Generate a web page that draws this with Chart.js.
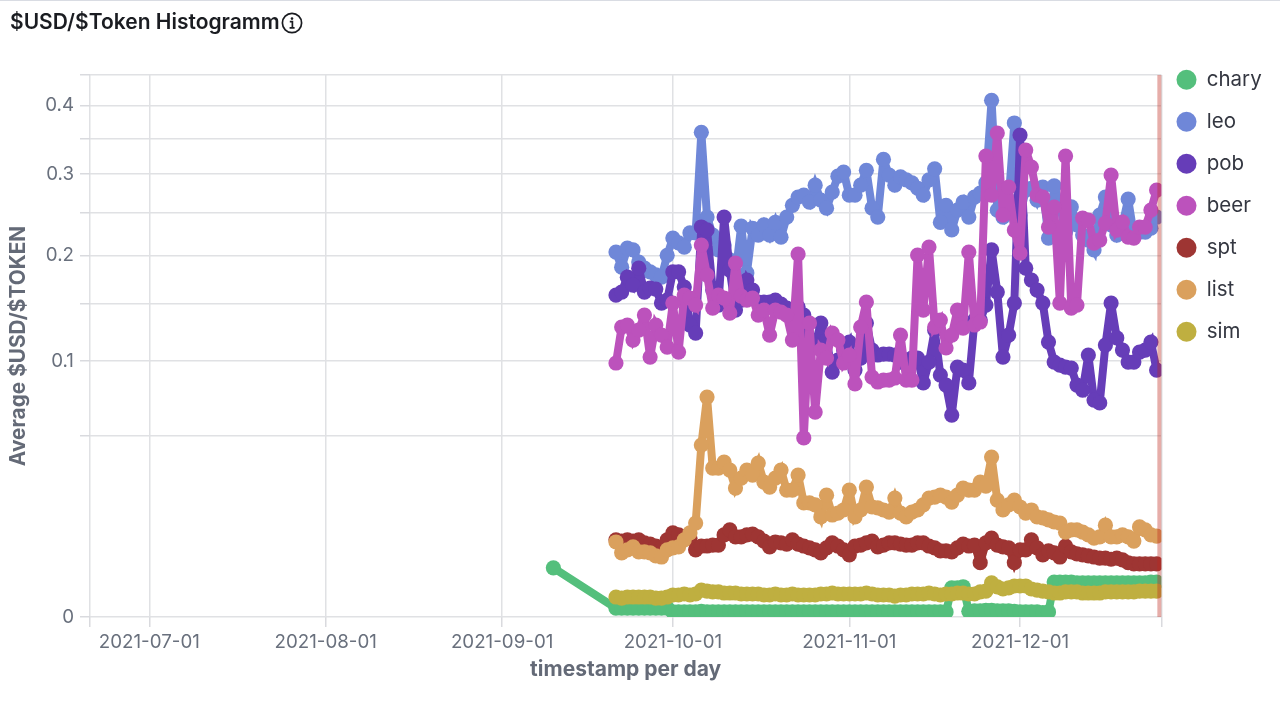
<!DOCTYPE html>
<html><head><meta charset="utf-8">
<script src="https://cdn.jsdelivr.net/npm/chart.js@4/dist/chart.umd.min.js"></script>
<style>
html,body{margin:0;padding:0;background:#fff;width:1280px;height:706px;overflow:hidden}
#wrap{position:relative;width:1280px;height:706px}
#topline{position:absolute;left:0;top:0;width:1280px;height:1px;background:#d9dce3}
#title{position:absolute;left:10px;top:9px;font:600 21px/26px Inter,sans-serif;color:#1a1c21;white-space:nowrap}
#icon{position:absolute;left:281px;top:12px}
canvas{position:absolute;left:0;top:0}
</style></head><body>
<div id="wrap">
<canvas id="c" width="1280" height="706"></canvas>
<div id="topline"></div>
<div id="title">$USD/$Token Histogramm</div>
<svg id="icon" width="22" height="22" viewBox="0 0 22 22"><circle cx="11" cy="11" r="9.6" fill="none" stroke="#1a1c21" stroke-width="1.7"/><circle cx="11" cy="6.6" r="1.3" fill="#1a1c21"/><path d="M8.8 9.6h2.6v6M8.6 15.8h5" fill="none" stroke="#1a1c21" stroke-width="1.7"/></svg>
</div>
<script>
const startDate='2021-09-21';
const charyEarlyDate='2021-09-10';
const charyEarlyValue=.0037;
const names=['chary','leo','pob','beer','spt','list','sim'];
const colors=['#54bf7c','#6f87d8','#663db8','#bc52bc','#9e3533','#daa05d','#bfaf40'];
const chary=[.00012,.00012,.00012,.00012,.00012,.00012,.00012,.00012,.00012,.00012,
.00004,.00004,.00004,.00004,.00004,.00005,.00004,.00004,.00004,.00004,.00004,.00004,.00004,.00004,.00004,.00004,.00004,.00004,.00004,.00004,.00004,.00004,.00004,.00004,.00004,.00004,.00004,.00004,.00004,.00004,.00004,.00004,.00004,.00004,.00004,.00004,.00004,.00004,.00004,.00004,.00004,.00004,.00004,.00004,.00004,.00004,.00004,.00004,.00004,
.0013,.0013,.0014,
.00005,.00006,.00006,.00007,.00007,.00006,.00006,.00006,.00005,.00004,.00004,.00004,.00004,.00003,.00004,
.00187,.00187,.00187,.00187,.00177,.00177,.00177,.00177,.00177,.00177,.00177,.00177,.00177,.00177,.00177,.00177,.00177,.00187,.00187];
const leo=[.2035,.187,.208,.206,.1925,.186,.182,.179,.1765,.2,.2195,.214,.209,.2255,.2255,.359,.2445,.223,.206,.2115,.195,.179,.2335,.181,.231,.223,.235,.223,.238,.2205,.2445,.259,.2695,.272,.263,.285,.2655,.2555,.276,.297,.3026,.272,.272,.285,.305,.2555,.2445,.32,.2985,.285,.296,.292,.288,.281,.272,.292,.307,.238,.259,.229,.253,.263,.2445,.2695,.2745,.288,.408,.253,.2445,.2655,.373,.247,.2785,.281,.2655,.2825,.2195,.284,.259,.2265,.257,.235,.223,.217,.206,.247,.2695,.235,.223,.235,.267,.223,.2265,.2265,.231,.2445];
const pob=[.1584,.1614,.1765,.1684,.186,.1614,.1654,.1644,.1506,.1535,.182,.182,.1664,.1303,.1232,.2325,.229,.1634,.1487,.2445,.184,.144,.1535,.1735,.1634,.1516,.1516,.1516,.1535,.1497,.1459,.144,.1468,.1393,.113,.113,.1321,.1172,.0917,.1009,.1089,.1155,.0932,.1025,.1321,.1089,.1049,.1057,.1057,.1049,.0993,.1009,.1025,.1025,.0837,.0993,.1258,.0895,.0822,.0623,.0955,.0932,.0837,.1348,.1348,.1487,.206,.1614,.1033,.1215,.1506,.355,.186,.1735,.1634,.1506,.1155,.0993,.097,.0955,.0947,.0822,.0787,.1049,.0719,.07,.113,.1506,.119,.1089,.0993,.0993,.1073,.1089,.1155,.0932];
const beer=[.0986,.1285,.1303,.1172,.1258,.1393,.1033,.1303,.1215,.1114,.1506,.1073,.1584,.1555,.1487,.2114,.1787,.1459,.1584,.1555,.1412,.1915,.1574,.1535,.1555,.1393,.144,.1215,.144,.1421,.1393,.1172,.2013,.049,.1321,.0642,.1089,.1025,.1232,.1172,.0986,.1049,.083,.1285,.1516,.088,.0844,.0858,.0858,.0873,.1215,.0858,.0858,.2002,.144,.2092,.1285,.1348,.1106,.1215,.144,.1276,.2035,.1303,.133,.3247,.272,.358,.2469,.2825,.2288,.2024,.3332,.3094,.272,.2695,.2324,.2568,.1506,.3247,.1459,.1487,.2432,.2408,.2137,.2172,.2372,.2985,.2288,.2384,.2206,.2195,.2324,.2324,.2531,.2786];
const spt=[.0091,.0088,.0091,.0088,.0091,.0084,.0081,.0077,.0073,.0091,.0108,.0103,.0098,.0095,.0069,.0077,.0077,.0079,.0079,.0103,.0116,.0098,.0098,.0103,.0105,.0098,.0088,.0075,.0086,.0084,.0081,.0091,.0081,.0077,.0073,.0069,.0063,.0073,.0084,.0077,.0069,.0059,.0077,.0079,.0084,.0088,.0075,.0079,.0084,.0084,.0081,.0079,.0079,.0084,.0084,.0077,.0073,.0067,.0067,.0065,.0073,.0081,.0077,.0079,.0045,.0084,.0095,.0079,.0075,.0073,.0045,.0069,.0069,.0091,.0073,.0059,.0067,.0063,.0055,.0077,.0065,.0061,.0059,.0057,.0055,.0053,.0053,.0051,.0053,.005,.0045,.0043,.0043,.0043,.0043,.0043];
const list=[.0086,.0063,.0069,.0075,.0065,.0065,.0063,.0057,.0055,.0069,.0073,.0075,.0091,.0108,.0135,.0452,.0739,.0339,.0339,.0367,.033,.0254,.0295,.033,.0308,.0362,.0278,.0258,.0295,.033,.0246,.0246,.0308,.0199,.0199,.0192,.0153,.0227,.0159,.0165,.0175,.0246,.0153,.0175,.0258,.0185,.0182,.0175,.0168,.0216,.0165,.0153,.0168,.0175,.0192,.0216,.022,.0227,.022,.0202,.0227,.0254,.0246,.0246,.0278,.0262,.0391,.0209,.0175,.0192,.0209,.0185,.0165,.0175,.0153,.015,.0144,.0138,.0135,.011,.0116,.0116,.011,.0103,.0095,.0098,.0129,.0098,.0098,.0103,.0098,.0088,.0124,.0116,.0103,.01];
const sim=[.00061,.00055,.00061,.00061,.00061,.00061,.00061,.00055,.00055,.00061,.00074,.00074,.00081,.00074,.00081,.00111,.00103,.00096,.00096,.00088,.00088,.00088,.00081,.00081,.00081,.00081,.00074,.00074,.00081,.00074,.00074,.00081,.00074,.00074,.00074,.00074,.00081,.00081,.00088,.00081,.00081,.00081,.00081,.00081,.00088,.00081,.00074,.00074,.00074,.00067,.00074,.00074,.00081,.00081,.00081,.00088,.00081,.00074,.00081,.00081,.00088,.00088,.00081,.00081,.00096,.00103,.00177,.00138,.0012,.00129,.00147,.00147,.00147,.0012,.00111,.00103,.00096,.00088,.00088,.00096,.00096,.00096,.00088,.00088,.00088,.00088,.00096,.00096,.00096,.00096,.00096,.00096,.00103,.00103,.00103,.00103];
const yTicks=[0,.05,.1,.15,.2,.25,.3,.35,.4,.449];
const yLabelled=[0,.1,.2,.3,.4];
const monthTicks=['2021-07-01','2021-08-01','2021-09-01','2021-10-01','2021-11-01','2021-12-01'];

const dayNum=s=>new Date(s+'T00:00:00Z').getTime()/864e5;
const xMin=dayNum('2021-06-20')+.58, xMax=dayNum('2021-12-26')-.17;
const seriesData=[chary,leo,pob,beer,spt,list,sim];

class SqrtScale extends Chart.LinearScale{
  getPixelForValue(v){return this.getPixelForDecimal(Math.sqrt(Math.max(v,0))/Math.sqrt(this.max));}
  getValueForPixel(p){const d=this.getDecimalForPixel(p)*Math.sqrt(this.max);return d*d;}
}
SqrtScale.id='sqrt';
SqrtScale.defaults=Chart.LinearScale.defaults;
Chart.register(SqrtScale);

const datasets=names.map((n,k)=>{
  const pts=seriesData[k].map((v,i)=>({x:dayNum(startDate)+i,y:v}));
  if(n==='chary')pts.unshift({x:dayNum(charyEarlyDate),y:charyEarlyValue});
  return {label:n,data:pts,borderColor:colors[k],backgroundColor:colors[k],pointBackgroundColor:colors[k],
    pointBorderWidth:0,pointRadius:7.6,borderWidth:8,tension:0,borderJoinStyle:'miter',order:7-k,pointStyle:'circle'};
});
const nowLine={id:'nowLine',
  beforeDatasetsDraw(c){c.ctx.miterLimit=3;},
  afterDatasetsDraw(c){
    const x=c.chartArea.right,a=c.chartArea,g=c.ctx;
    g.save();g.fillStyle='rgba(189,39,30,.38)';g.fillRect(x-4,a.top,4,a.bottom-a.top);g.restore();
}};
const placeLegend={id:'placeLegend',afterLayout(c){c.legend.top=48;c.legend.left=1155;}};
const tickFont={family:'Inter',size:18.75};
new Chart(document.getElementById('c'),{
  type:'line',
  data:{datasets},
  plugins:[nowLine,placeLegend],
  options:{
    responsive:false,animation:false,devicePixelRatio:1,
    layout:{padding:{top:75,left:0,right:2,bottom:24}},
    scales:{
      x:{type:'linear',min:xMin,max:xMax,
        afterBuildTicks:s=>{s.ticks=[xMin,...monthTicks.map(dayNum),xMax].map(v=>({value:v}));},
        afterFit:s=>{s.height=65;},
        grid:{color:'#e0e1e4',lineWidth:1.5,tickLength:10,tickColor:'#d9dade',drawTicks:true},
        border:{display:false},
        ticks:{autoSkip:false,maxRotation:0,minRotation:0,padding:4,color:'#69707d',font:tickFont,
          callback:v=>monthTicks.map(dayNum).includes(v)?new Date(v*864e5).toISOString().slice(0,10):''},
        title:{display:true,text:'timestamp per day',color:'#646a77',font:{family:'Inter',size:21,weight:'700'},padding:{top:4,bottom:0}}
      },
      y:{type:'sqrt',min:0,max:.449,
        afterBuildTicks:s=>{s.ticks=yTicks.map(v=>({value:v}));},
        afterFit:s=>{s.width=90;},
        grid:{color:'#e0e1e4',lineWidth:1.5,tickLength:10,tickColor:'#d9dade'},
        border:{display:false},
        ticks:{autoSkip:false,padding:6,color:'#69707d',font:tickFont,
          callback:v=>yLabelled.includes(v)?String(v):''},
        title:{display:true,text:'Average $USD/$TOKEN',color:'#646a77',font:{family:'Inter',size:20.8,weight:'700'},padding:{top:6,bottom:0}}
      }
    },
    plugins:{
      tooltip:{enabled:false},
      legend:{display:true,position:'right',align:'start',maxWidth:119,
        labels:{usePointStyle:true,boxWidth:20,boxHeight:14.14,padding:21.5,color:'#343741',font:{family:'Inter',size:20.5},
          sort:(a,b)=>a.datasetIndex-b.datasetIndex,
          generateLabels:c=>Chart.defaults.plugins.legend.labels.generateLabels(c).map(i=>({...i,lineWidth:0,strokeStyle:'transparent',pointStyle:'circle'}))}
      }
    }
  }
});
</script>
</body></html>
